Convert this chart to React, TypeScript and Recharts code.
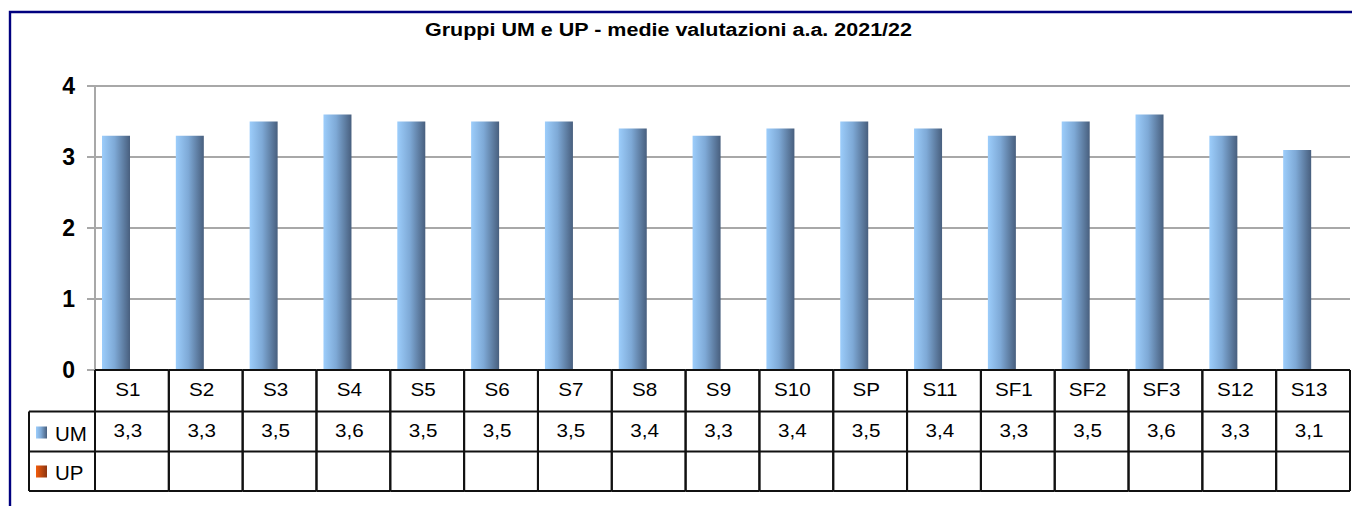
import React from "react";
import { BarChart, Bar, XAxis, YAxis, CartesianGrid, Customized } from "recharts";

const categories = ["S1", "S2", "S3", "S4", "S5", "S6", "S7", "S8", "S9", "S10", "SP", "S11", "SF1", "SF2", "SF3", "S12", "S13"];
const umValues = [3.3, 3.3, 3.5, 3.6, 3.5, 3.5, 3.5, 3.4, 3.3, 3.4, 3.5, 3.4, 3.3, 3.5, 3.6, 3.3, 3.1];
const upValues: (number | null)[] = categories.map(() => null);
const yTicks = [0, 1, 2, 3, 4];
const seriesNames = ["UM", "UP"];
const title = "Gruppi UM e UP - medie valutazioni a.a. 2021/22";

const data = categories.map((c, i) => ({ name: c, UM: umValues[i], UP: upValues[i] }));

const W = 1352;
const H = 506;
const MARGIN = { top: 86, right: 2, left: 0, bottom: 14 };
const Y_W = 95;
const X_H = 122;
const PLOT_L = MARGIN.left + Y_W;
const PLOT_R = W - MARGIN.right;
const BAND = (PLOT_R - PLOT_L) / categories.length;
const ROWS = [41.5, 40, 39.5];
const FONT = "'Liberation Sans', Arial, sans-serif";
const LINE = "#111";
const STRETCH = 1.18;

const fmt = (v: number | null) => (v == null ? "" : String(v).replace(".", ","));

const Cell = ({ x, y, label }: { x: number; y: number; label: string }) => (
  <text
    transform={`translate(${x},${y}) scale(${STRETCH},1)`}
    x={0}
    y={0}
    textAnchor="middle"
    fontSize={17.5}
    fontFamily={FONT}
    fill="#000"
  >
    {label}
  </text>
);

const TableTick = (props: any) => {
  const { x, y, payload, index } = props;
  const l = x - BAND / 2;
  const r = x + BAND / 2;
  const y1 = y + ROWS[0];
  const y2 = y1 + ROWS[1];
  const y3 = y2 + ROWS[2];
  const tx = x - 4;
  return (
    <g>
      <line x1={l} x2={r} y1={y} y2={y} stroke={LINE} strokeWidth={2} />
      <line x1={l} x2={r} y1={y1} y2={y1} stroke={LINE} strokeWidth={2} />
      <line x1={l} x2={r} y1={y2} y2={y2} stroke={LINE} strokeWidth={2} />
      <line x1={l} x2={r} y1={y3} y2={y3} stroke={LINE} strokeWidth={2} />
      <line x1={l} x2={l} y1={y} y2={y3} stroke={LINE} strokeWidth={2} />
      <line x1={r} x2={r} y1={y} y2={y3} stroke={LINE} strokeWidth={2} />
      <Cell x={tx} y={y + 25.5} label={String(payload.value)} />
      <Cell x={tx} y={y1 + 25} label={fmt(umValues[index])} />
      <Cell x={tx} y={y2 + 25} label={fmt(upValues[index])} />
    </g>
  );
};

const Decor = () => {
  const top = H - MARGIN.bottom - X_H;
  const y1 = top + ROWS[0];
  const y2 = y1 + ROWS[1];
  const y3 = y2 + ROWS[2];
  const lx = 29;
  return (
    <g>
      <path d={`M10 ${H} L10 12 L${W} 12`} fill="none" stroke="#00007f" strokeWidth={2.4} />
      <text
        x={668.5}
        y={35.5}
        textAnchor="middle"
        fontSize={18}
        fontWeight="bold"
        fontFamily={FONT}
        fill="#000"
        textLength={487}
        lengthAdjust="spacingAndGlyphs"
      >
        {title}
      </text>
      <line x1={lx} x2={PLOT_L} y1={y1} y2={y1} stroke={LINE} strokeWidth={2} />
      <line x1={lx} x2={PLOT_L} y1={y2} y2={y2} stroke={LINE} strokeWidth={2} />
      <line x1={lx} x2={PLOT_L} y1={y3} y2={y3} stroke={LINE} strokeWidth={2} />
      <line x1={lx} x2={lx} y1={y1} y2={y3} stroke={LINE} strokeWidth={2} />
      <rect x={36} y={y1 + 15} width={11} height={12} fill="url(#gradUM)" />
      <text x={55} y={y1 + 29.5} fontSize={20.5} fontFamily={FONT} fill="#000">{seriesNames[0]}</text>
      <rect x={36} y={y2 + 14} width={11} height={12} fill="url(#gradUP)" />
      <text x={55} y={y2 + 28.5} fontSize={20.5} fontFamily={FONT} fill="#000">{seriesNames[1]}</text>
    </g>
  );
};

export default function App() {
  return (
    <div style={{ position: "absolute", left: 0, top: 0, width: W, height: H, background: "#fff" }}>
      <BarChart width={W} height={H} data={data} margin={MARGIN} barGap={4} barSize={28}>
        <defs>
          <linearGradient id="gradUM" x1="0" y1="0" x2="1" y2="0">
            <stop offset="0%" stopColor="#9ccdfb" />
            <stop offset="45%" stopColor="#7ea9d6" />
            <stop offset="100%" stopColor="#485f7e" />
          </linearGradient>
          <linearGradient id="gradUP" x1="0" y1="0" x2="1" y2="0">
            <stop offset="0%" stopColor="#f25c0c" />
            <stop offset="100%" stopColor="#8c3510" />
          </linearGradient>
        </defs>
        <CartesianGrid vertical={false} stroke="#a8a8a8" strokeWidth={2} />
        <YAxis
          width={Y_W}
          domain={[0, 4]}
          ticks={yTicks}
          interval={0}
          tickSize={8}
          tickMargin={12}
          axisLine={{ stroke: "#a8a8a8", strokeWidth: 2 }}
          tickLine={{ stroke: "#a8a8a8", strokeWidth: 2 }}
          tick={{ fontSize: 23, fontWeight: "bold", fontFamily: FONT, fill: "#000" }}
        />
        <XAxis
          dataKey="name"
          height={X_H}
          interval={0}
          tickSize={0}
          tickMargin={0}
          axisLine={false}
          tickLine={false}
          tick={<TableTick />}
        />
        <Bar dataKey="UM" fill="url(#gradUM)" isAnimationActive={false} />
        <Bar dataKey="UP" fill="url(#gradUP)" isAnimationActive={false} />
        <Customized component={<Decor />} />
      </BarChart>
    </div>
  );
}
